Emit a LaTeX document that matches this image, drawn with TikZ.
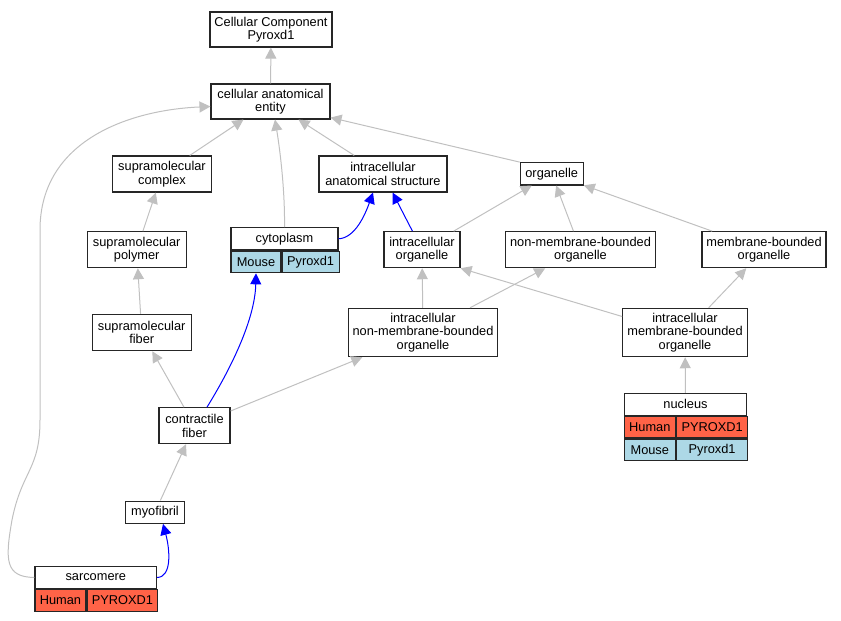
\documentclass[tikz,border=0pt]{standalone}
\usepackage{fontspec}
\setmainfont{Liberation Sans}
\usetikzlibrary{arrows.meta}
\definecolor{edgegray}{HTML}{C0C0C0}
\definecolor{humanred}{HTML}{FF6347}
\definecolor{mouseblue}{HTML}{ADD8E6}
\tikzset{
  term/.style={draw=black!85, line width=1.1pt, fill=white, inner sep=0pt, align=center,
    font=\fontsize{12.8}{13.5}\selectfont},
  human/.style={term, fill=humanred},
  mouse/.style={term, fill=mouseblue},
  isa/.style={draw=edgegray, line width=1pt, -{Triangle[length=11pt,width=11pt]}},
  partof/.style={draw=blue, line width=1pt, -{Triangle[length=11pt,width=11pt]}},
}
\begin{document}
\begin{tikzpicture}[x=1pt,y=-1pt]
\useasboundingbox (0,0) rectangle (841,621);

% Terms
\node[term, minimum width=122pt, minimum height=35pt] (cc) at (271,29.5) {Cellular Component\\Pyroxd1};
\node[term, minimum width=119pt, minimum height=35pt] (cae) at (270.5,101.5) {cellular anatomical\\entity};
\node[term, minimum width=99pt, minimum height=36pt] (smc) at (162,174) {supramolecular\\complex};
\node[term, minimum width=128pt, minimum height=36pt] (ias) at (383,174) {intracellular\\anatomical structure};
\node[term, minimum width=63pt, minimum height=22.3pt] (org) at (551.7,173.8) {organelle};
\node[term, minimum width=99pt, minimum height=36pt] (smp) at (136.7,249.7) {supramolecular\\polymer};
\node[term, minimum width=76pt, minimum height=36pt] (io) at (422,249.7) {intracellular\\organelle};
\node[term, minimum width=150pt, minimum height=36pt] (nmbo) at (580.5,249.7) {non-membrane-bounded\\organelle};
\node[term, minimum width=124pt, minimum height=36pt] (mbo) at (764,249.7) {membrane-bounded\\organelle};
\node[term, minimum width=149.4pt, minimum height=48.4pt] (inmbo) at (423,332.5) {intracellular\\non-membrane-bounded\\organelle};
\node[term, minimum width=124.6pt, minimum height=48.4pt] (imbo) at (685,332.5) {intracellular\\membrane-bounded\\organelle};
\node[term, minimum width=99pt, minimum height=36.4pt] (smf) at (141.7,332.5) {supramolecular\\fiber};
\node[term, minimum width=71pt, minimum height=36pt] (cf) at (194.5,425.7) {contractile\\fiber};
\node[term, minimum width=58.6pt, minimum height=22.3pt] (myo) at (155,512.2) {myofibril};

% Annotated terms
\node[term, minimum width=107pt, minimum height=22.3pt] (cyto) at (284.5,238.8) {cytoplasm};
\node[mouse, minimum width=50pt, minimum height=21.7pt, anchor=north west] (cytoM) at (cyto.south west) {Mouse};
\node[mouse, minimum width=57pt, minimum height=21.7pt, anchor=north west] (cytoG) at (cytoM.north east) {Pyroxd1};

\node[term, minimum width=122.4pt, minimum height=21.7pt] (nuc) at (685.5,404.2) {nucleus};
\node[human, minimum width=51pt, minimum height=21.7pt, anchor=north west] (nucH) at (nuc.south west) {Human};
\node[human, minimum width=71.4pt, minimum height=21.7pt, anchor=north west] (nucHG) at (nucH.north east) {PYROXD1};
\node[mouse, minimum width=51pt, minimum height=21.7pt, anchor=north west] (nucM) at (nucH.south west) {Mouse};
\node[mouse, minimum width=71.4pt, minimum height=21.7pt, anchor=north west] (nucMG) at (nucM.north east) {Pyroxd1};

\node[term, minimum width=121.7pt, minimum height=21.6pt] (sarc) at (95.8,577.5) {sarcomere};
\node[human, minimum width=51pt, minimum height=21.7pt, anchor=north west] (sarcH) at (sarc.south west) {Human};
\node[human, minimum width=70.7pt, minimum height=21.7pt, anchor=north west] (sarcHG) at (sarcH.north east) {PYROXD1};

% is_a
\draw[isa] (cae) -- (cc);
\draw[isa] (smc) -- (cae);
\draw[isa] (cyto.north) .. controls (285,190) and (280,150) .. ([xshift=4.5pt]cae.south);
\draw[isa] (ias) -- (cae);
\draw[isa] (org.north west) -- ([yshift=2pt]cae.south east);
\draw[isa] (sarc.west) .. controls (5,577) and (5,560) .. (12,520) .. controls (22,470) and (40,470) .. (40,420)
  -- (40,230) .. controls (40,140) and (130,110) .. ([yshift=-5pt]cae.west);
\draw[isa] (smp) -- (smc);
\draw[isa] (smf) -- (smp);
\draw[isa] (cf) -- (smf);
\draw[isa] (cf) -- (inmbo);
\draw[isa] (myo) -- (cf);
\draw[isa] (io) -- (org);
\draw[isa] (nmbo) -- (org);
\draw[isa] (mbo) -- (org);
\draw[isa] (inmbo) -- (io);
\draw[isa] (inmbo) -- (nmbo);
\draw[isa] ([yshift=16pt]imbo.west) -- (io.south east);
\draw[isa] (imbo) -- (mbo);
\draw[isa] (nuc) -- (imbo);

% part_of
\draw[partof] (sarc.east) .. controls (172,577) and (170,550) .. ([xshift=8pt]myo.south);
\draw[partof] ([xshift=12.5pt]cf.north) .. controls (230,370) and (255,320) .. (cytoM.south);
\draw[partof] (cyto.east) .. controls (355,238) and (365,215) .. ([xshift=-10pt]ias.south);
\draw[partof] (io) -- (ias);
\end{tikzpicture}
\end{document}
